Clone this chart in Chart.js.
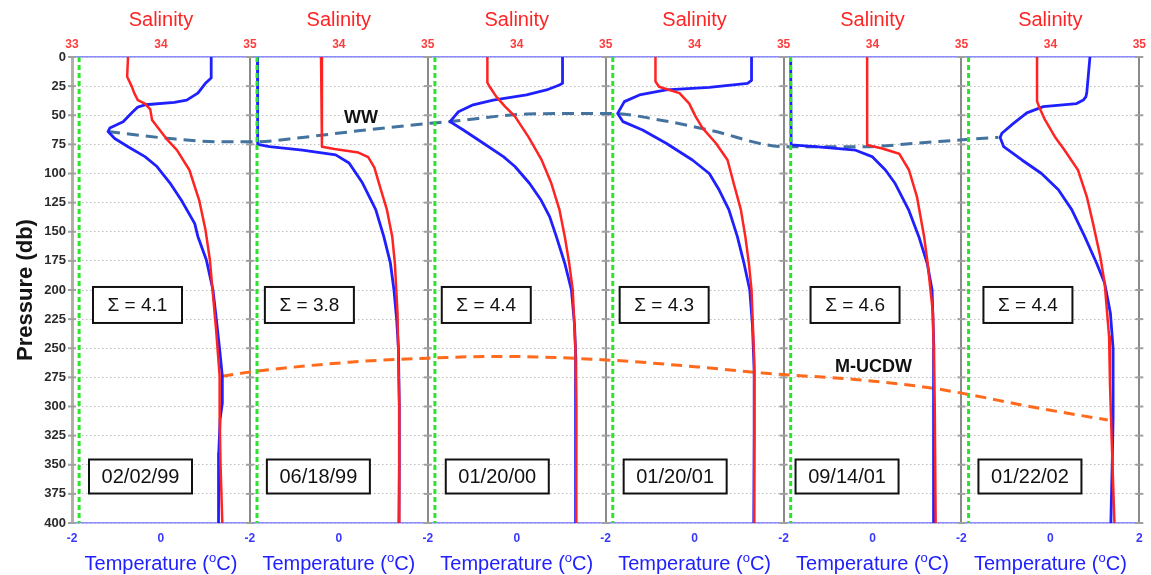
<!DOCTYPE html>
<html>
<head>
<meta charset="utf-8">
<title>Temperature and salinity profiles</title>
<script src="https://cdn.jsdelivr.net/npm/chart.js@4.4.0/dist/chart.umd.min.js"></script>
<style>
  body { margin: 0; background: #fff; }
  canvas { display: block; }
</style>
</head>
<body>
<canvas id="profiles" width="1151" height="575"></canvas>
<script>
// one cast per panel
const castDates = ['02/02/99', '06/18/99', '01/20/00', '01/20/01', '09/14/01', '01/22/02'];
const sigmaValues = [4.1, 3.8, 4.4, 4.3, 4.6, 4.4];
const freezingPoint = -1.84;

// axis ranges of a single panel
const tempMin = -2, tempMax = 2;
const salMin = 33, salMax = 35;
const pressureMax = 400, pressureStep = 25;

// temperature profiles (db / degC)
const tempPressure = [
  [0, 18, 22.6, 31, 37, 39, 41, 43, 48, 55.5, 61, 64, 70, 77, 85.5, 94, 108, 123, 143, 154, 174, 200, 223, 251, 274, 297, 311, 340, 370, 400],
  [0, 40, 75, 77, 80, 84, 91, 108, 131, 154, 177, 200, 225, 250, 300, 350, 400],
  [0, 22.6, 24, 28.3, 32.6, 37, 41, 47, 55.5, 62.7, 74, 85.5, 94, 108.6, 123, 137, 154, 177, 200, 230, 260, 300, 350, 400],
  [0, 20, 22.6, 26, 28.3, 32.6, 38.3, 48.4, 55.5, 62.7, 74, 88.4, 100, 114, 131, 154, 177, 200, 230, 270, 320, 400],
  [0, 75.5, 77, 80, 85.5, 97, 108.6, 131, 154, 177, 200, 250, 300, 350, 400],
  [0, 30, 34, 37, 40, 42.6, 48, 57, 65.5, 69, 77, 88.4, 100, 114, 131, 154, 177, 194, 220, 250, 310, 350, 400]
];
const tempValues = [
  [1.13, 1.13, 1.0, 0.83, 0.58, 0.3, -0.35, -0.52, -0.66, -0.85, -1.15, -1.19, -1.04, -0.74, -0.36, -0.09, 0.2, 0.46, 0.76, 0.83, 1.02, 1.17, 1.24, 1.32, 1.38, 1.38, 1.33, 1.30, 1.29, 1.30],
  [-1.83, -1.83, -1.82, -1.56, -0.82, -0.07, 0.23, 0.53, 0.83, 1.01, 1.16, 1.24, 1.30, 1.34, 1.36, 1.36, 1.35],
  [1.03, 1.03, 0.96, 0.67, 0.22, -0.53, -0.98, -1.31, -1.50, -1.20, -0.75, -0.30, -0.04, 0.29, 0.55, 0.74, 0.89, 1.08, 1.23, 1.30, 1.33, 1.33, 1.32, 1.32],
  [1.28, 1.28, 1.19, 0.33, -0.64, -1.24, -1.58, -1.73, -1.61, -1.17, -0.64, -0.05, 0.33, 0.55, 0.77, 0.96, 1.11, 1.24, 1.30, 1.34, 1.34, 1.33],
  [-1.84, -1.83, -1.28, -0.38, -0.01, 0.29, 0.51, 0.81, 1.04, 1.23, 1.34, 1.38, 1.38, 1.37, 1.37],
  [0.89, 0.82, 0.80, 0.74, 0.59, -0.16, -0.53, -0.83, -1.09, -1.13, -1.05, -0.64, -0.20, 0.18, 0.48, 0.77, 1.04, 1.22, 1.35, 1.41, 1.41, 1.39, 1.36]
];

// salinity profiles (db / psu)
const salPressure = [
  [0, 17, 25, 31, 37, 40, 45, 54, 62, 70, 80, 97, 123, 148, 174, 200, 234, 274, 306, 350, 400],
  [0, 77, 79, 82, 86, 95, 108, 131, 154, 177, 220, 300, 400],
  [0, 22, 26, 34, 42.6, 51, 68.4, 88.4, 108.6, 131, 154, 177, 200, 250, 300, 400],
  [0, 21, 25.5, 31, 40, 51, 61, 74, 88.4, 108.6, 131, 154, 177, 200, 260, 400],
  [0, 75.5, 78.5, 83, 97, 120, 154, 177, 220, 300, 400],
  [0, 38, 44, 54, 68.4, 80, 97, 120, 143, 171, 194, 240, 280, 330, 400]
];
const salValues = [
  [33.63, 33.62, 33.67, 33.70, 33.74, 33.82, 33.88, 33.90, 33.98, 34.06, 34.18, 34.32, 34.43, 34.50, 34.55, 34.58, 34.62, 34.66, 34.66, 34.67, 34.69],
  [33.80, 33.81, 33.95, 34.22, 34.33, 34.40, 34.45, 34.54, 34.60, 34.63, 34.66, 34.68, 34.68],
  [33.67, 33.67, 33.70, 33.77, 33.87, 33.98, 34.13, 34.28, 34.39, 34.48, 34.54, 34.59, 34.63, 34.66, 34.67, 34.67],
  [33.56, 33.56, 33.60, 33.83, 33.94, 34.01, 34.09, 34.24, 34.37, 34.44, 34.52, 34.57, 34.61, 34.64, 34.67, 34.67],
  [33.94, 33.94, 34.11, 34.30, 34.41, 34.50, 34.58, 34.62, 34.68, 34.70, 34.71],
  [33.85, 33.85, 33.88, 33.94, 34.05, 34.16, 34.31, 34.41, 34.48, 34.56, 34.61, 34.66, 34.67, 34.69, 34.72]
];

// water mass cores traced across the panels (position along the shared axis, db)
const wwPosition = [-1.19, 0.2, 1.32, 2.14, 3.18, 4.30, 6.02, 6.50, 8.22, 10.09, 11.21, 12.33, 14.04, 15.84, 16.97, 18.16, 18.83];
const wwPressure = [64, 70, 72.7, 72.7, 69, 64, 57, 55.5, 49, 48.4, 54, 62.7, 77, 77, 74, 70.7, 69];
const ucdwPosition = [1.38, 1.99, 4.23, 6.02, 7.59, 10.0, 12.07, 13.60, 15.66, 17.37, 19.76, 21.29];
const ucdwPressure = [274, 270.5, 262, 258.5, 257, 260, 266, 271.5, 277, 284.4, 301.6, 311.6];

// panels sit side by side on one x axis, each one temperature span wide
const span = tempMax - tempMin;
const tempToX = (t, k) => t + span * k;
const salToX = (s, k) => tempMin + (s - salMin) / (salMax - salMin) * span + span * k;
const xMin = tempMin, xMax = tempMin + span * castDates.length;

// label box placement, px from each panel's left edge
const sigmaBoxLeft = [21, 15, 14, 14, 27, 22];
const dateBoxLeft = [17, 17, 18, 18, 12, 17];

const RED = '#ff2424';
const BLUE = '#2020ff';
const FONT = '"Liberation Sans", Arial, sans-serif';

const datasets = [];
castDates.forEach(function (date, k) {
  datasets.push({
    label: 'freezing ' + date,
    data: [{ x: tempToX(freezingPoint, k), y: 0 }, { x: tempToX(freezingPoint, k), y: pressureMax }],
    borderColor: '#2ee32e', borderWidth: 3, borderDash: [5, 3]
  });
});
castDates.forEach(function (date, k) {
  datasets.push({
    label: 'salinity ' + date,
    data: salPressure[k].map((p, i) => ({ x: salToX(salValues[k][i], k), y: p })),
    borderColor: RED, borderWidth: 2.5
  });
  datasets.push({
    label: 'temperature ' + date,
    data: tempPressure[k].map((p, i) => ({ x: tempToX(tempValues[k][i], k), y: p })),
    borderColor: BLUE, borderWidth: 2.8
  });
});
datasets.push({
  label: 'WW',
  data: wwPosition.map((x, i) => ({ x: x, y: wwPressure[i] })),
  borderColor: '#44739f', borderWidth: 3, borderDash: [12, 7], cubicInterpolationMode: 'monotone'
});
datasets.push({
  label: 'M-UCDW',
  data: ucdwPosition.map((x, i) => ({ x: x, y: ucdwPressure[i] })),
  borderColor: '#ff6a1c', borderWidth: 3, borderDash: [11, 7], cubicInterpolationMode: 'monotone'
});
datasets.forEach(function (ds) {
  ds.showLine = true;
  ds.pointRadius = 0;
  ds.fill = false;
  ds.borderJoinStyle = 'round';
});

const isBoundary = v => Math.round(v - tempMin) % span === 0;

function drawBox(ctx, x, y, w, h, text, font) {
  ctx.save();
  ctx.fillStyle = '#fff';
  ctx.fillRect(x, y, w, h);
  ctx.strokeStyle = '#111';
  ctx.lineWidth = 2;
  ctx.strokeRect(x, y, w, h);
  ctx.fillStyle = '#111';
  ctx.font = font;
  ctx.textAlign = 'center';
  ctx.textBaseline = 'middle';
  ctx.fillText(text, x + w / 2, y + h / 2 + 1);
  ctx.restore();
}

// little tick marks where the pressure grid meets each panel edge
const edgeTicks = {
  id: 'edgeTicks',
  beforeDatasetsDraw(chart) {
    const ctx = chart.ctx, xs = chart.scales.x, ys = chart.scales.y;
    ctx.save();
    ctx.strokeStyle = '#a0a0a0';
    ctx.lineWidth = 2;
    for (let k = 0; k <= castDates.length; k++) {
      const px = xs.getPixelForValue(tempMin + span * k);
      ys.ticks.forEach(function (t) {
        const py = ys.getPixelForValue(t.value);
        ctx.beginPath();
        ctx.moveTo(px - 4, py);
        ctx.lineTo(px + 4, py);
        ctx.stroke();
      });
    }
    ctx.restore();
  }
};

const panelText = {
  id: 'panelText',
  afterDraw(chart) {
    const ctx = chart.ctx, xs = chart.scales.x, ys = chart.scales.y;
    ctx.save();
    castDates.forEach(function (date, k) {
      const left = xs.getPixelForValue(tempMin + span * k);
      const mid = xs.getPixelForValue(span * k);

      ctx.fillStyle = RED;
      ctx.font = '20px ' + FONT;
      ctx.textAlign = 'center';
      ctx.textBaseline = 'middle';
      ctx.fillText('Salinity', mid, 20);

      // Temperature (oC) with a raised "o"
      const big = '20px ' + FONT;
      const small = '13px ' + FONT;
      ctx.font = big;
      const w1 = ctx.measureText('Temperature (').width;
      const w3 = ctx.measureText('C)').width;
      ctx.font = small;
      const w2 = ctx.measureText('o').width;
      const tx = mid - (w1 + w2 + w3) / 2;
      ctx.fillStyle = BLUE;
      ctx.textAlign = 'left';
      ctx.textBaseline = 'alphabetic';
      ctx.font = big;
      ctx.fillText('Temperature (', tx, 570);
      ctx.font = small;
      ctx.fillText('o', tx + w1, 562);
      ctx.font = big;
      ctx.fillText('C)', tx + w1 + w2, 570);

      drawBox(ctx, left + sigmaBoxLeft[k], ys.getPixelForValue(197.4), 89, 36,
        '\u03A3 = ' + sigmaValues[k].toFixed(1), '19px ' + FONT);
      drawBox(ctx, left + dateBoxLeft[k], ys.getPixelForValue(345.5), 103, 34,
        date, '20px ' + FONT);
    });

    ctx.fillStyle = '#111';
    ctx.font = 'bold 18px ' + FONT;
    ctx.textAlign = 'center';
    ctx.textBaseline = 'middle';
    ctx.fillText('WW', xs.getPixelForValue(4.5), ys.getPixelForValue(52.4));
    ctx.fillText('M-UCDW', xs.getPixelForValue(16.02), ys.getPixelForValue(266));
    ctx.restore();
  }
};

new Chart(document.getElementById('profiles'), {
  type: 'scatter',
  data: { datasets: datasets },
  plugins: [edgeTicks, panelText],
  options: {
    responsive: false,
    animation: false,
    layout: { padding: { left: 0, right: 8, top: 0, bottom: 0 } },
    plugins: { legend: { display: false }, tooltip: { enabled: false } },
    scales: {
      x: {
        type: 'linear',
        position: 'bottom',
        min: xMin,
        max: xMax,
        afterFit: s => { s.height = 52; },
        ticks: {
          stepSize: 2,
          autoSkip: false,
          maxRotation: 0,
          padding: 8,
          color: '#3838ff',
          font: { family: FONT, size: 12, weight: 'bold' },
          callback: v => v === xMax ? String(tempMax) : (isBoundary(v) ? String(tempMin) : '0')
        },
        grid: {
          drawTicks: false,
          lineWidth: 2,
          color: c => isBoundary(c.tick.value) ? '#8a8a8a' : 'rgba(0,0,0,0)'
        },
        border: { color: '#8c8cff', width: 1.5 }
      },
      x2: {
        type: 'linear',
        position: 'top',
        min: xMin,
        max: xMax,
        afterFit: s => { s.height = 57; },
        ticks: {
          stepSize: 2,
          autoSkip: false,
          maxRotation: 0,
          padding: 5,
          color: '#ff3c3c',
          font: { family: FONT, size: 12, weight: 'bold' },
          callback: v => v === xMin ? String(salMin) : (isBoundary(v) ? String(salMax) : '34')
        },
        grid: { display: false, drawTicks: false },
        border: { color: '#8c8cff', width: 1.5 }
      },
      y: {
        type: 'linear',
        reverse: true,
        min: 0,
        max: pressureMax,
        afterFit: s => { s.width = 72; },
        ticks: {
          stepSize: pressureStep,
          autoSkip: false,
          padding: 6,
          color: '#2a2a2a',
          font: { family: FONT, size: 13, weight: 'bold' }
        },
        grid: { drawTicks: false, color: '#bdbdbd', lineWidth: 1 },
        border: { color: '#b0b0b0', width: 3, dash: [1.5, 2.5] },
        title: {
          display: true,
          text: 'Pressure (db)',
          color: '#151515',
          padding: { top: 13, bottom: 0 },
          font: { family: FONT, size: 22, weight: 'bold' }
        }
      }
    }
  }
});
</script>
</body>
</html>
